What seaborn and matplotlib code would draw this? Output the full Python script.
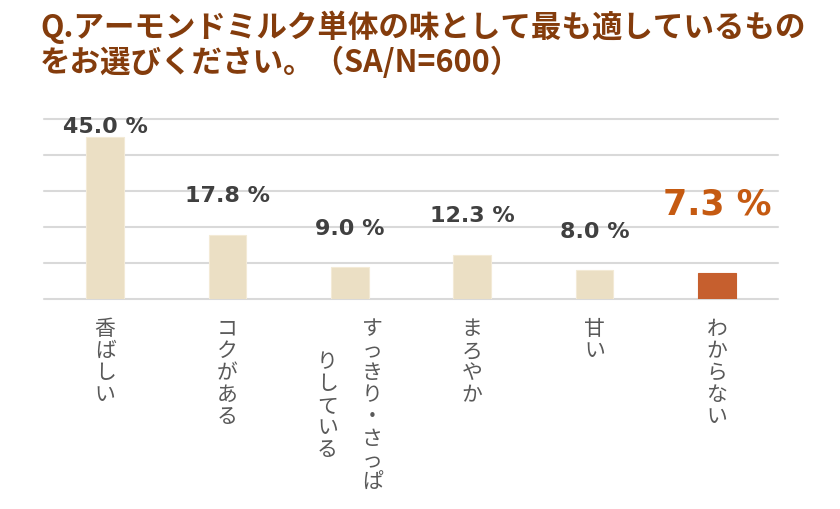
import matplotlib
matplotlib.use('Agg')
import matplotlib.pyplot as plt
import seaborn as sns
import pandas as pd

# data
categories = ['香ばしい', 'コクがある', 'すっきり・さっぱりしている', 'まろやか', '甘い', 'わからない']
values = [45.0, 17.8, 9.0, 12.3, 8.0, 7.3]
value_labels = ['45.0 %', '17.8 %', '9.0 %', '12.3 %', '8.0 %', '7.3 %']
highlight = [False, False, False, False, False, True]
title_lines = ['Q.アーモンドミルク単体の味として最も適しているもの',
               'をお選びください。（SA/N=600）']

BEIGE = '#EBDFC4'
ORANGE = '#C65F2E'
LABEL_ORANGE = '#C55A11'
BROWN = '#843C0C'
GRID = '#D9D9D9'


def main():
    sns.set_style('white')
    plt.rcParams['font.family'] = ['Noto Sans CJK JP', 'DejaVu Sans']

    df = pd.DataFrame({'cat': categories, 'val': values})
    colors = [ORANGE if h else BEIGE for h in highlight]

    fig = plt.figure(figsize=(8.4, 5.1), dpi=100)
    ax = fig.add_axes([44 / 840, 1 - 300 / 510, 734 / 840, 180 / 510])

    sns.barplot(data=df, x='cat', y='val', hue='cat', palette=colors,
                legend=False, width=0.31, ax=ax, saturation=1,
                edgecolor='#F3EAD6', linewidth=0.8)
    # the highlighted bar has no light edge
    ax.patches[-1].set_edgecolor(ORANGE)

    ax.set_ylim(0, 50)
    ax.set_xlim(-0.5, len(categories) - 0.5)
    ax.set_yticks(range(0, 51, 10))
    ax.yaxis.grid(True, color=GRID, linewidth=1.5)
    for gl in ax.get_ygridlines():
        gl.set_clip_on(False)
    ax.set_axisbelow(True)
    ax.tick_params(left=False, labelleft=False, bottom=False, labelbottom=False)
    for s in ['top', 'right', 'left', 'bottom']:
        ax.spines[s].set_visible(False)
    ax.set_xlabel('')
    ax.set_ylabel('')

    # value labels above bars (offsets in pixels)
    label_offsets = [5, 34, 33, 34, 33, 59]
    for i, (v, lab, h) in enumerate(zip(values, value_labels, highlight)):
        ax.annotate(lab, xy=(i, v), xytext=(0, label_offsets[i]),
                    textcoords='offset pixels', ha='center', va='baseline',
                    family='DejaVu Sans', fontweight='bold',
                    fontsize=25 if h else 16,
                    color=LABEL_ORANGE if h else '#404040',
                    annotation_clip=False)

    # vertical (tategaki) category labels, wrapped at 8 characters per column
    pitch = 22
    col_gap = 45
    for i, cat in enumerate(categories):
        cols = [cat[k:k + 8] for k in range(0, len(cat), 8)]
        n = len(cols)
        for c, col in enumerate(cols):
            dx = ((n - 1) / 2 - c) * col_gap
            top = (len(cols[0]) - len(col)) * pitch / 2
            for k, ch in enumerate(col):
                dy = -29 - top - k * pitch
                ax.annotate(ch, xy=(i, 0), xytext=(dx, dy),
                            textcoords='offset pixels', ha='center', va='center',
                            fontsize=15, color='#595959', annotation_clip=False)

    # title
    fig.text(40 / 840, 1 - 27 / 510, title_lines[0], ha='left', va='center',
             fontsize=22, fontweight='bold', color=BROWN)
    fig.text(40 / 840, 1 - 63 / 510, title_lines[1], ha='left', va='center',
             fontsize=22, fontweight='bold', color=BROWN)

    fig.savefig('out.png', dpi=100, facecolor='white')


if __name__ == "__main__":
    main()
